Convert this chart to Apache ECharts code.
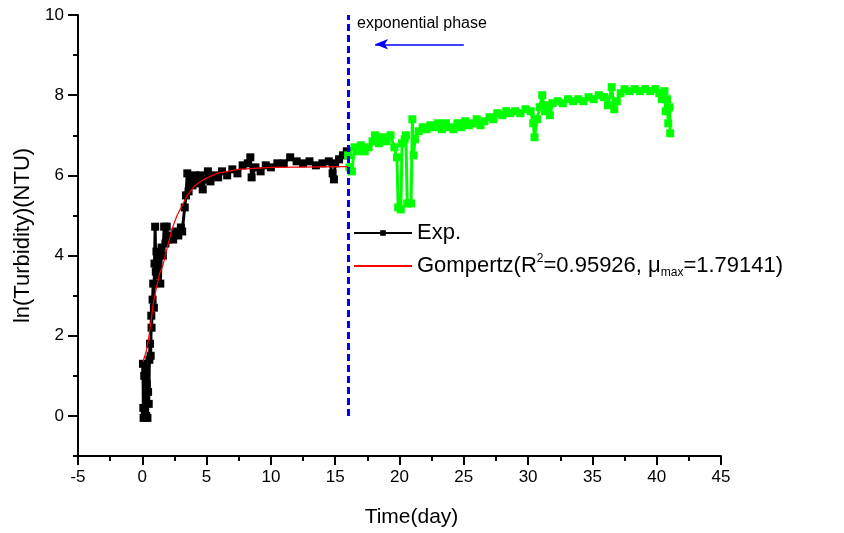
<!DOCTYPE html>
<html>
<head>
<meta charset="utf-8">
<script src="https://cdn.jsdelivr.net/npm/echarts@6/dist/echarts.min.js"></script>
<style>html,body{margin:0;padding:0;background:#fff}#c{width:844px;height:533px}</style>
</head>
<body>
<div id="c"></div>
<script>
// ---- data ----
var xTicks = [-5, 0, 5, 10, 15, 20, 25, 30, 35, 40, 45];
var yLabelValues = [0, 2, 4, 6, 8, 10];
var yMinorValues = [-1, 1, 3, 5, 7, 9];

// Exp. (black) : [day, ln(turbidity)]
var expBlack = [[0.05,1.3],[0.08,0.2],[0.1,-0.05],[0.15,1.0],[0.2,0.1],[0.25,1.2],[0.3,0.0],[0.35,0.8],[0.4,-0.05],[0.45,0.6],[0.5,0.3],[0.55,1.4],[0.6,1.8],[0.65,1.5],[0.7,2.5],[0.72,2.2],[0.8,2.9],[0.85,3.3],[0.9,2.7],[0.95,3.8],[1.0,4.72],[1.05,3.6],[1.1,4.1],[1.2,3.5],[1.3,4.0],[1.4,3.3],[1.5,4.2],[1.6,4.0],[1.7,4.72],[1.8,4.3],[1.9,4.72],[2.0,4.4],[2.2,4.5],[2.4,4.4],[2.6,4.6],[2.8,4.5],[3.0,4.7],[3.1,4.6],[3.3,5.2],[3.4,5.5],[3.5,6.05],[3.6,5.6],[3.7,5.9],[3.9,5.75],[4.1,6.0],[4.3,5.8],[4.5,6.0],[4.7,5.65],[4.9,5.9],[5.1,6.1],[5.3,5.85],[5.6,6.0],[5.9,5.95],[6.2,6.1],[6.6,6.0],[7.0,6.15],[7.4,6.05],[7.8,6.25],[8.2,6.3],[8.4,6.45],[8.5,5.95],[8.8,6.2],[9.2,6.1],[9.6,6.25],[10.0,6.2],[10.5,6.3],[11.0,6.3],[11.5,6.45],[12.0,6.35],[12.5,6.3],[13.0,6.35],[13.5,6.25],[14.0,6.3],[14.5,6.35],[14.8,6.05],[14.9,5.9],[15.0,6.3],[15.3,6.4],[15.6,6.5],[15.9,6.6]];

// Exp. after exponential phase (green)
var expGreen = [[16.0,6.5],[16.1,6.2],[16.3,6.1],[16.5,6.7],[16.8,6.6],[17.0,6.75],[17.3,6.6],[17.6,6.7],[17.9,6.85],[18.1,7.0],[18.4,6.8],[18.7,6.95],[19.0,6.85],[19.3,7.0],[19.6,6.7],[19.8,6.45],[19.9,5.2],[20.1,5.15],[20.2,6.8],[20.4,6.9],[20.5,7.0],[20.6,5.3],[20.9,5.3],[21.0,7.4],[21.1,6.5],[21.2,6.9],[21.5,7.1],[21.8,7.2],[22.1,7.15],[22.4,7.25],[22.7,7.2],[23.0,7.3],[23.3,7.15],[23.6,7.3],[23.9,7.2],[24.2,7.15],[24.5,7.3],[24.8,7.2],[25.1,7.35],[25.4,7.25],[25.7,7.3],[26.0,7.4],[26.3,7.25],[26.6,7.35],[27.0,7.45],[27.3,7.4],[27.6,7.55],[28.0,7.5],[28.3,7.6],[28.6,7.55],[29.0,7.6],[29.4,7.55],[29.8,7.65],[30.2,7.6],[30.4,7.3],[30.5,6.95],[30.7,7.4],[30.9,7.7],[31.1,8.0],[31.3,7.6],[31.5,7.75],[31.7,7.5],[31.9,7.8],[32.3,7.85],[32.7,7.8],[33.1,7.9],[33.5,7.85],[33.9,7.9],[34.3,7.85],[34.7,7.95],[35.1,7.9],[35.5,8.0],[35.9,7.95],[36.2,7.75],[36.5,8.2],[36.7,7.65],[36.9,7.85],[37.2,8.05],[37.5,8.15],[37.9,8.1],[38.3,8.15],[38.7,8.1],[39.1,8.15],[39.5,8.1],[39.9,8.15],[40.2,8.05],[40.4,7.9],[40.6,8.1],[40.7,7.6],[40.8,7.9],[40.9,7.3],[41.0,7.7],[41.05,7.05]];

// Gompertz fit (red)
var gompertz = [[0.05,1.35],[0.3,1.6],[0.5,1.95],[0.7,2.4],[0.85,2.8],[1.1,3.2],[1.35,3.55],[1.6,3.75],[1.9,4.15],[2.3,4.65],[2.7,5.0],[3.1,5.25],[3.5,5.5],[4.1,5.75],[4.8,5.9],[5.8,6.05],[7.5,6.15],[10,6.2],[16,6.22]];

// annotation values
var phaseDay = 16;
var phaseLine = [0, 10];
var arrowFrom = [25.0, 9.27];
var arrowTo = [18.1, 9.27];

var FONT = 'Arial, "Liberation Sans", Helvetica, sans-serif';
var chart = echarts.init(document.getElementById('c'), null, {renderer: 'canvas'});

chart.setOption({
  animation: false,
  backgroundColor: '#fff',
  grid: {left: 78, right: 123, top: 15, bottom: 76, containLabel: false},
  xAxis: [{
    type: 'value', min: -5, max: 45, interval: 5,
    axisLine: {show: true, onZero: false, lineStyle: {color: '#000', width: 2}},
    splitLine: {show: false},
    axisTick: {show: true, length: 9, lineStyle: {color: '#000', width: 2}},
    minorTick: {show: true, splitNumber: 2, length: 5, lineStyle: {color: '#000', width: 2}},
    minorSplitLine: {show: false},
    axisLabel: {color: '#000', fontSize: 17, fontFamily: FONT, margin: 13},
    name: 'Time(day)', nameLocation: 'middle', nameGap: 51,
    nameTextStyle: {color: '#000', fontSize: 21, fontFamily: FONT, padding: [0, 0, 0, 24]}
  }],
  yAxis: [{
    type: 'value', min: -1, max: 10,
    axisLine: {show: true, onZero: false, lineStyle: {color: '#000', width: 2}},
    splitLine: {show: false},
    axisTick: {show: true, length: 10, lineStyle: {color: '#000', width: 2}, customValues: yLabelValues},
    axisLabel: {color: '#000', fontSize: 17, fontFamily: FONT, margin: 14, customValues: yLabelValues},
    name: 'ln(Turbidity)(NTU)', nameLocation: 'middle', nameGap: 44, nameRotate: 90,
    nameTextStyle: {color: '#000', fontSize: 22, fontFamily: FONT}
  }, {
    type: 'value', min: -1, max: 10, position: 'left', offset: 0,
    axisLine: {show: false, onZero: false},
    splitLine: {show: false},
    axisTick: {show: true, length: 5, lineStyle: {color: '#000', width: 2}, customValues: yMinorValues},
    axisLabel: {show: false}
  }],
  legend: {
    orient: 'vertical', left: 353, top: 222, padding: 0,
    itemWidth: 58, itemHeight: 7, itemGap: 9,
    data: [
      {name: 'Exp.'},
      {name: 'Gompertz', itemStyle: {opacity: 0}}
    ],
    textStyle: {
      color: '#000', fontSize: 22, fontFamily: FONT,
      rich: {
        t: {fontSize: 22, fontFamily: FONT, color: '#000', lineHeight: 26},
        sup: {fontSize: 12, fontFamily: FONT, color: '#000', verticalAlign: 'top', lineHeight: 26},
        sub: {fontSize: 12, fontFamily: FONT, color: '#000', verticalAlign: 'bottom', lineHeight: 26},
        mu: {fontSize: 22, fontFamily: FONT, color: '#000', lineHeight: 26}
      }
    },
    formatter: function (name) {
      if (name === 'Gompertz') {
        return '{t|Gompertz(R}{sup|2}{t|=0.95926, }{mu|\u03bc}{sub|max}{t|=1.79141)}';
      }
      return '{t|' + name + '}';
    }
  },
  graphic: [{
    type: 'text', left: 357, top: 16,
    style: {text: 'exponential phase', fontSize: 16, fontFamily: FONT, fill: '#000'}
  }],
  series: [{
    name: 'Exp.', type: 'line', data: expBlack,
    symbol: 'rect', symbolSize: 8, showSymbol: true,
    itemStyle: {color: '#000'}, lineStyle: {color: '#000', width: 3},
    z: 2
  }, {
    name: 'Gompertz', type: 'line', data: gompertz,
    symbol: 'none', showSymbol: false,
    itemStyle: {color: '#ff0000'}, lineStyle: {color: '#ff0000', width: 1.2},
    z: 3
  }, {
    name: 'green', type: 'line', data: expGreen,
    symbol: 'rect', symbolSize: 8,
    itemStyle: {color: '#00ff00'}, lineStyle: {color: '#00ff00', width: 3},
    z: 2,
    markLine: {
      silent: true, animation: false,
      label: {show: false},
      data: [
        [{coord: [phaseDay, phaseLine[0]], symbol: 'none', lineStyle: {color: '#0000ff', width: 3, type: [7, 4]}},
         {coord: [phaseDay, phaseLine[1]], symbol: 'none'}],
        [{coord: arrowFrom, symbol: 'none', lineStyle: {color: '#0000ff', width: 1.5, type: 'solid'}},
         {coord: arrowTo, symbol: 'arrow', symbolSize: [8, 13]}]
      ]
    }
  }]
});
</script>
</body>
</html>
